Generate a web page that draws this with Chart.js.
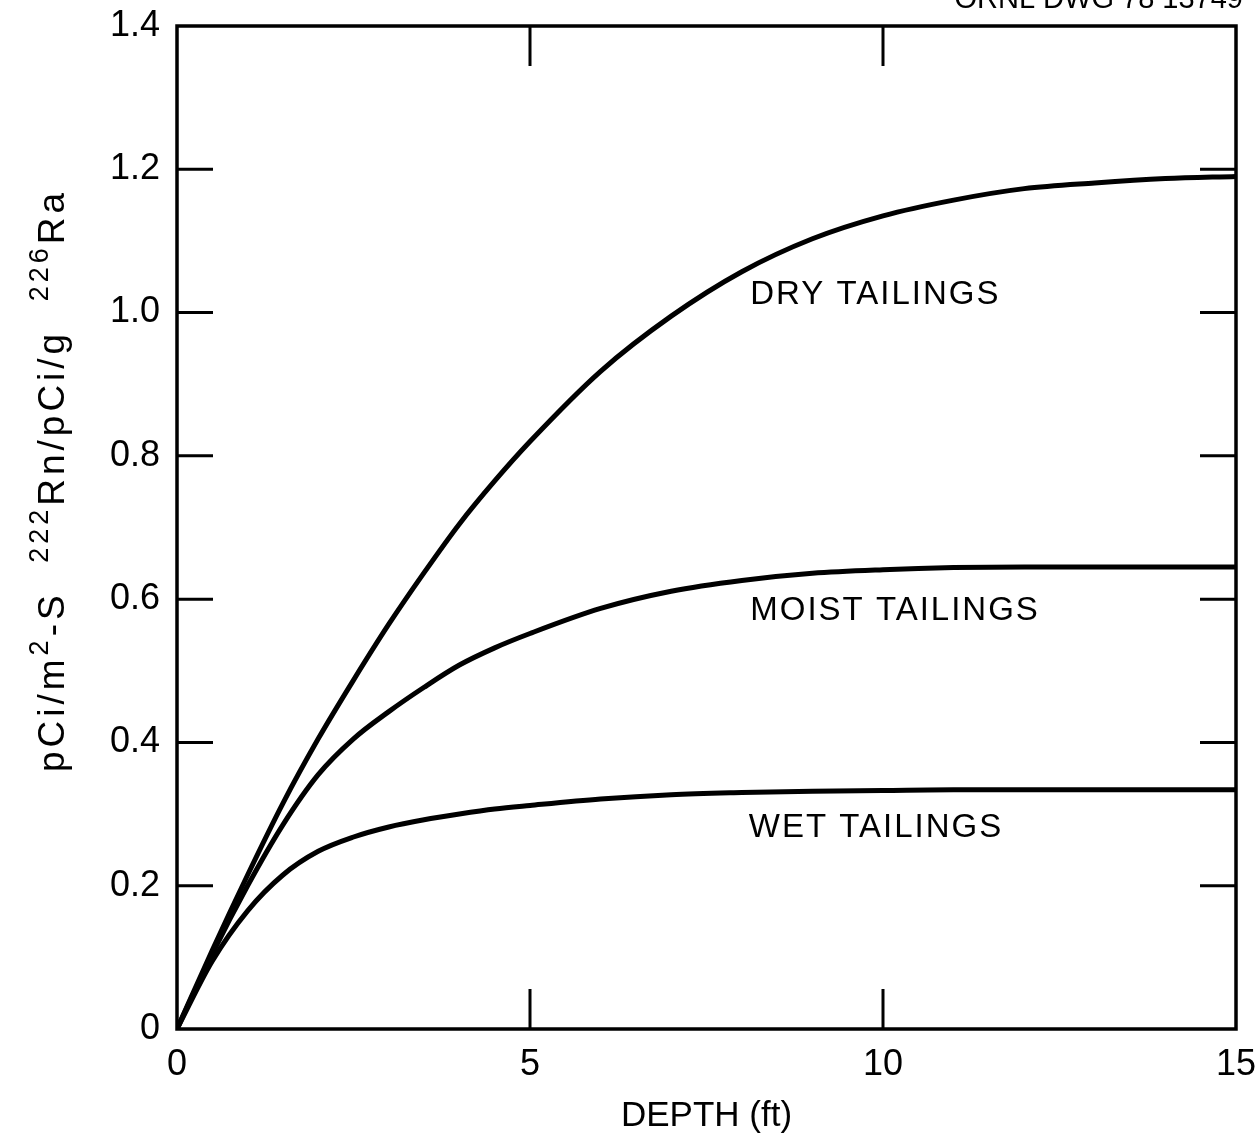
<!DOCTYPE html>
<html>
<head>
<meta charset="utf-8">
<script src="https://cdn.jsdelivr.net/npm/chart.js@4.4.1/dist/chart.umd.min.js"></script>
<style>
  html, body { margin: 0; padding: 0; background: #fff; }
  #wrap { width: 1256px; height: 1141px; position: relative; }
</style>
</head>
<body>
<div id="wrap"><canvas id="depthChart"></canvas></div>
<script>
// depth below surface (ft)
const depth = [0, 0.5, 1, 1.5, 2, 2.5, 3, 3.5, 4, 4.5, 5, 6, 7, 8, 9, 10, 11, 12, 13, 14, 15];

// pCi/m2-s 222Rn per pCi/g 226Ra
const dryTailings   = [0, 0.11, 0.215, 0.315, 0.405, 0.487, 0.565, 0.637, 0.705, 0.765, 0.82, 0.918, 0.995, 1.057, 1.103, 1.135, 1.157, 1.173, 1.181, 1.187, 1.19];
const moistTailings = [0, 0.105, 0.2, 0.285, 0.355, 0.405, 0.443, 0.477, 0.508, 0.532, 0.552, 0.587, 0.611, 0.626, 0.636, 0.641, 0.644, 0.645, 0.645, 0.645, 0.645];
const wetTailings   = [0, 0.095, 0.165, 0.215, 0.248, 0.268, 0.282, 0.292, 0.30, 0.307, 0.312, 0.321, 0.327, 0.33, 0.332, 0.333, 0.334, 0.334, 0.334, 0.334, 0.334];

const seriesNames = ["DRY TAILINGS", "MOIST TAILINGS", "WET TAILINGS"];
// where each curve name sits (depth, value)
const labelDepth = [8.12, 8.12, 8.1];
const labelValue = [1.024, 0.584, 0.281];

const xTickMarks = [5, 10];
const yTickMarks = [0.2, 0.4, 0.6, 0.8, 1.0, 1.2];

const yTitleParts = [["pCi/m", false], ["2", true], ["-S  ", false], ["222", true], ["Rn/pCi/g  ", false], ["226", true], ["Ra", false]];

const FONT = "'Liberation Sans', Arial, sans-serif";

function toPoints(vals) {
  return depth.map((d, i) => ({ x: d, y: vals[i] }));
}

const framePlugin = {
  id: "frame",
  afterDraw(chart) {
    const ctx = chart.ctx;
    const a = chart.chartArea;
    const xs = chart.scales.x, ys = chart.scales.y;
    ctx.save();
    ctx.strokeStyle = "#000";
    ctx.lineWidth = 3.5;
    ctx.strokeRect(a.left, a.top, a.right - a.left, a.bottom - a.top);

    // inward ticks on all four sides
    ctx.lineWidth = 3;
    ctx.beginPath();
    yTickMarks.forEach(v => {
      const p = ys.getPixelForValue(v);
      ctx.moveTo(a.left, p); ctx.lineTo(a.left + 36, p);
      ctx.moveTo(a.right, p); ctx.lineTo(a.right - 36, p);
    });
    xTickMarks.forEach(v => {
      const p = xs.getPixelForValue(v);
      ctx.moveTo(p, a.bottom); ctx.lineTo(p, a.bottom - 40);
      ctx.moveTo(p, a.top); ctx.lineTo(p, a.top + 40);
    });
    ctx.stroke();

    // curve names
    ctx.fillStyle = "#000";
    ctx.font = "33px " + FONT;
    ctx.letterSpacing = "2px";
    ctx.textAlign = "left";
    ctx.textBaseline = "middle";
    seriesNames.forEach((n, i) => {
      ctx.fillText(n, xs.getPixelForValue(labelDepth[i]), ys.getPixelForValue(labelValue[i]));
    });

    // drawing number, cut by top edge as in the scan
    ctx.font = "29px " + FONT;
    ctx.letterSpacing = "0px";
    ctx.textAlign = "right";
    ctx.textBaseline = "alphabetic";
    ctx.fillText("ORNL DWG 78 13749", 1243, 8);

    // y title with superscripts
    ctx.translate(64, 772);
    ctx.rotate(-Math.PI / 2);
    ctx.textAlign = "left";
    ctx.letterSpacing = "4px";
    let pos = 0;
    yTitleParts.forEach(([t, sup]) => {
      ctx.font = (sup ? "27px " : "37px ") + FONT;
      ctx.fillText(t, pos, sup ? -16 : 0);
      pos += ctx.measureText(t).width;
    });
    ctx.restore();
  }
};

const ctx = document.getElementById("depthChart").getContext("2d");
const lineStyle = { borderColor: "#000", borderWidth: 5, pointRadius: 0, fill: false, cubicInterpolationMode: "monotone" };

new Chart(ctx, {
  type: "line",
  data: {
    datasets: [
      { label: seriesNames[0], data: toPoints(dryTailings), ...lineStyle },
      { label: seriesNames[1], data: toPoints(moistTailings), ...lineStyle },
      { label: seriesNames[2], data: toPoints(wetTailings), ...lineStyle }
    ]
  },
  options: {
    responsive: true,
    maintainAspectRatio: false,
    animation: false,
    layout: { padding: { left: 0, right: 20, top: 26, bottom: 0 } },
    plugins: { legend: { display: false }, tooltip: { enabled: false } },
    scales: {
      x: {
        type: "linear",
        min: 0, max: 15,
        grid: { display: false },
        border: { display: false },
        ticks: { stepSize: 5, color: "#000", padding: 6, font: { family: FONT, size: 36 }, maxRotation: 0 },
        title: { display: true, text: "DEPTH (ft)", color: "#000", font: { family: FONT, size: 35 }, padding: { top: 0, bottom: 4 } },
        afterFit(scale) { scale.height = 112; scale.paddingLeft = 0; scale.paddingRight = 0; }
      },
      y: {
        min: 0, max: 1.4,
        grid: { display: false },
        border: { display: false },
        ticks: {
          stepSize: 0.2, color: "#000", padding: 9, font: { family: FONT, size: 36 },
          callback: v => (v === 0 ? "0" : v.toFixed(1))
        },
        afterFit(scale) { scale.width = 177; scale.paddingTop = 0; scale.paddingBottom = 0; }
      }
    }
  },
  plugins: [framePlugin]
});
</script>
</body>
</html>
